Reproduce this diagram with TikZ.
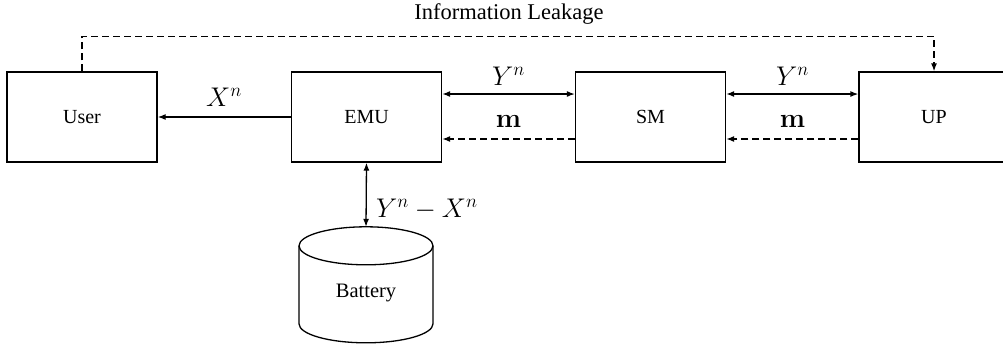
\documentclass[tikz,border=0pt]{standalone}
\usepackage{fix-cm}
\usepackage[no-math]{fontspec}
\setmainfont{Liberation Serif}
\usetikzlibrary{arrows.meta}
\tikzset{
  blk/.style={draw, line width=1.3pt, minimum width=150pt, minimum height=90pt, inner sep=0pt,
    font=\fontsize{20}{24}\selectfont},
  wire/.style={line width=1.3pt, -{Latex[length=8pt,width=6pt]}},
  both/.style={line width=1.3pt, {Latex[length=8pt,width=6pt]}-{Latex[length=8pt,width=6pt]}},
  leak/.style={dash pattern=on 7pt off 4pt},
  txt/.style={inner sep=0pt, font=\fontsize{20.5}{24}\selectfont},
  mth/.style={inner sep=0pt, font=\fontsize{27}{32}\selectfont},
}
\begin{document}
\begin{tikzpicture}[x=1pt, y=-1pt]
\useasboundingbox (0,0) rectangle (1003,349);
\clip (0,0) rectangle (1003,349);

% blocks
\node[blk] (user) at (82,117) {User};
\node[blk] (emu) at (366.5,117) {EMU};
\node[blk] (sm) at (650.5,117) {SM};
\node[blk] (up) at (934,117) {UP};

% storage cylinder
\node[minimum width=134pt, minimum height=116pt, inner sep=0pt] (battery) at (366,285) {};
\path (battery.north) ++(0,19) coordinate (btop);
\draw[line width=1.3pt] (btop) ellipse [x radius=67pt, y radius=19pt];
\draw[line width=1.3pt] (btop) ++(-67,0) -- ++(0,78)
  arc[start angle=180, end angle=360, x radius=67pt, y radius=19pt] -- ++(0,-78);
\node[txt, anchor=base] (batlabel) at (366,297) {Battery};

% flows
\draw[wire] (emu.west) -- (user.east);
\draw[both] ([yshift=23pt]emu.east) -- ([yshift=23pt]sm.west);
\draw[both] ([yshift=23pt]sm.east) -- ([yshift=23pt]up.west);
\draw[wire, leak] ([yshift=-22pt]sm.west) -- ([yshift=-22pt]emu.east);
\draw[wire, leak] ([yshift=-22pt]up.west) -- ([yshift=-22pt]sm.east);
\draw[both] (emu.south) -- (battery.north);
\draw[wire, leak] (user.north) -- ++(0,-35) -| (up.north);

% labels
\node[inner sep=0pt, font=\fontsize{22.5}{26}\selectfont, anchor=base] (leaklabel) at (509,19) {Information Leakage};
\node[mth, anchor=base] (xlab) at (224,106) {$X^n$};
\node[mth, anchor=base] (ylab1) at (508.5,85) {$Y^n$};
\node[mth, anchor=base] (ylab2) at (792.5,85) {$Y^n$};
\node[mth, anchor=base] (mlab1) at (508.5,127) {$\mathbf{m}$};
\node[mth, anchor=base] (mlab2) at (792.5,127) {$\mathbf{m}$};
\node[mth, anchor=base west] (dlab) at (376,217) {$Y^n-X^n$};
\end{tikzpicture}
\end{document}
